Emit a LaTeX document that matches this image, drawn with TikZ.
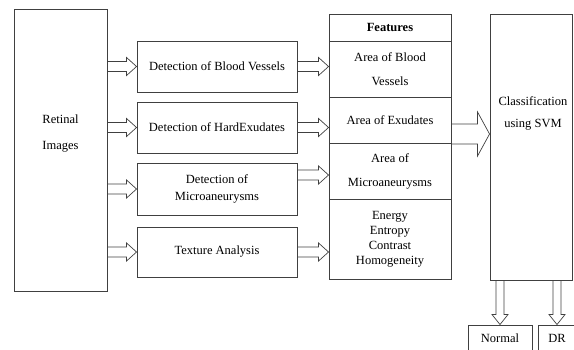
\documentclass[tikz,border=0pt]{standalone}
\usepackage{fontspec}
\setmainfont{Liberation Serif}
\usepackage{tikz}
\usetikzlibrary{calc}

\tikzset{
    box/.style={rectangle, draw=black!75, line width=0.9pt, inner sep=0pt, align=center, font=\fontsize{12.5}{15}\selectfont},
    txt/.style={align=center, inner sep=0pt, font=\fontsize{12.5}{15}\selectfont},
    hollow/.style n args={3}{draw=black!75, line width=0.7pt, line join=miter, to path={
        let \p1=($(\tikztotarget)!#3!(\tikztostart)$) in
        ($(\tikztostart)!#1!90:(\tikztotarget)$) -- ($(\p1)!#1!90:(\tikztotarget)$)
        -- ($(\p1)!#2!90:(\tikztotarget)$) -- (\tikztotarget)
        -- ($(\p1)!#2!-90:(\tikztotarget)$) -- ($(\p1)!#1!-90:(\tikztotarget)$)
        -- ($(\tikztostart)!#1!-90:(\tikztotarget)$) -- cycle}},
    smallarrow/.style={hollow={5pt}{9pt}{10pt}},
    bigarrow/.style={hollow={10pt}{22pt}{12pt}},
    downarrow/.style={hollow={4pt}{8pt}{10pt}}
}

\begin{document}
\begin{tikzpicture}[x=1pt, y=-1pt]
    \useasboundingbox (0,0) rectangle (574,349);
    \node[box, minimum width=93, minimum height=282] (ret) at (60.5, 150) {};
    \node[txt] (rettxt) at (60.5, 134) {Retinal\\[11pt]Images};
    \node[box, minimum width=160, minimum height=51] (d1) at (217, 66.5) {Detection of Blood Vessels};
    \node[box, minimum width=160, minimum height=51] (d2) at (217, 127.5) {Detection of HardExudates};
    \node[box, minimum width=160, minimum height=52] (d3) at (217, 189) {Detection of\\[2pt]Microaneurysms};
    \node[box, minimum width=160, minimum height=50] (d4) at (217, 252) {Texture Analysis};
    \node[box, minimum width=122, minimum height=27] (fh) at (390, 27.5) {\textbf{Features}};
    \node[box, minimum width=122, minimum height=56] (f1) at (390, 69) {Area of Blood\\[9pt]Vessels};
    \node[box, minimum width=122, minimum height=46] (f2) at (390, 120) {Area of Exudates};
    \node[box, minimum width=122, minimum height=56] (f3) at (390, 171) {Area of\\[9pt]Microaneurysms};
    \node[box, minimum width=122, minimum height=80] (f4) at (390, 239) {Energy\\Entropy\\Contrast\\Homogeneity};
    \node[box, minimum width=82, minimum height=266] (cls) at (531, 147) {};
    \node[txt] (clstxt) at (533, 113) {Classification\\[7pt]using SVM};
    \node[box, minimum width=64, minimum height=27] (normal) at (500, 338.5) {Normal};
    \node[box, minimum width=38, minimum height=27] (dr) at (557, 338.5) {DR};
    \coordinate (m3) at ([yshift=14pt]d3.east);
    \coordinate (exu) at ([yshift=-14pt]f2.east);
    \draw[smallarrow] (ret.east |- d1.west) to (d1.west);
    \draw[smallarrow] (ret.east |- d2.west) to (d2.west);
    \draw[smallarrow] (ret.east |- d3.west) to (d3.west);
    \draw[smallarrow] (ret.east |- d4.west) to (d4.west);
    \draw[smallarrow] (d1.east) to (d1.east -| f1.west);
    \draw[smallarrow] (d2.east) to (d2.east -| f2.west);
    \draw[smallarrow] (m3) to (m3 -| f3.west);
    \draw[smallarrow] (d4.east) to (d4.east -| f4.west);
    \draw[bigarrow] (exu) to (exu -| cls.west);
    \draw[downarrow] (cls.south -| normal.north) to (normal.north);
    \draw[downarrow] (cls.south -| dr.north) to (dr.north);
\end{tikzpicture}
\end{document}
